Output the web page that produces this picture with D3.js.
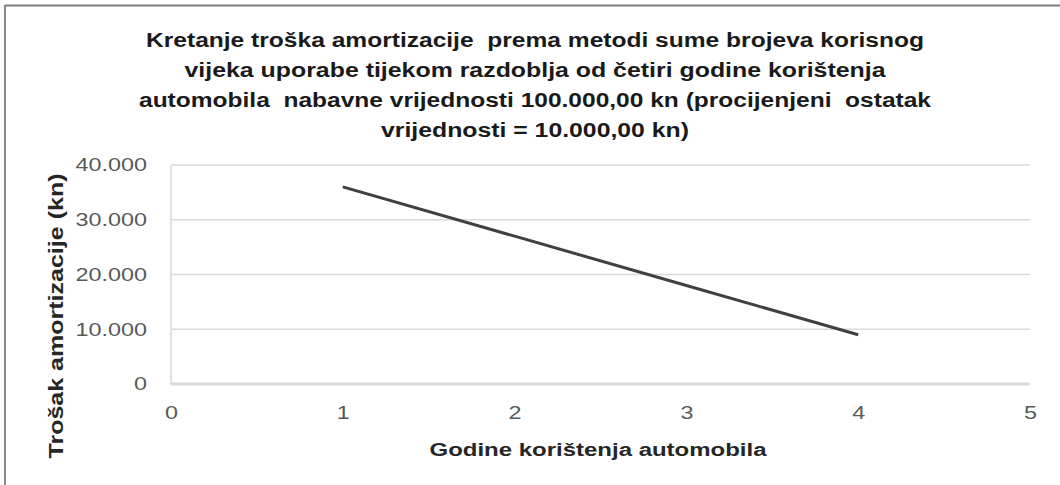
<!DOCTYPE html>
<html>
<head>
<meta charset="utf-8">
<script src="https://cdn.jsdelivr.net/npm/d3@7"></script>
<style>
  body { margin: 0; background: #fff; }
  text { font-family: "Liberation Sans", Arial, sans-serif; }
</style>
</head>
<body>
<script>
// data
var years = [1, 2, 3, 4]
var cost = [36000, 27000, 18000, 9000]
var yTicks = [0, 10000, 20000, 30000, 40000]
var xTicks = [0, 1, 2, 3, 4, 5]
var titleLines = [
    "Kretanje troška amortizacije  prema metodi sume brojeva korisnog",
    "vijeka uporabe tijekom razdoblja od četiri godine korištenja",
    "automobila  nabavne vrijednosti 100.000,00 kn (procijenjeni  ostatak",
    "vrijednosti = 10.000,00 kn)"
]
// how wide each title line is drawn in the picture
var titleWidths = [778, 701, 792, 308]

var W = 1060, H = 485
var plot = { left: 171, right: 1030, top: 165, bottom: 384 }

var d = d3.select('body').append('svg')
    .attr('width', W)
    .attr('height', H)

// frame (top and left edge only visible)
d.append('line')
    .attr('x1', 5).attr('x2', W).attr('y1', 5.5).attr('y2', 5.5)
    .attr('stroke', '#7a7a7a').attr('stroke-width', 2)
d.append('line')
    .attr('x1', 5).attr('x2', 5).attr('y1', 5).attr('y2', H)
    .attr('stroke', '#8a8a8a').attr('stroke-width', 2)

var x = d3.scaleLinear().domain([0, 5]).range([plot.left, plot.right])
var y = d3.scaleLinear().domain([0, 40000]).range([plot.bottom, plot.top])

// gridlines
d.append('g').selectAll('line')
    .data(yTicks)
    .join('line')
    .attr('x1', plot.left).attr('x2', plot.right)
    .attr('y1', function (v) { return y(v) }).attr('y2', function (v) { return y(v) })
    .attr('stroke', '#d9d9d9')
    .attr('stroke-width', function (v) { return v === 0 ? 3 : 1.5 })

// vertical axis line
d.append('line')
    .attr('x1', plot.left).attr('x2', plot.left)
    .attr('y1', plot.top).attr('y2', plot.bottom)
    .attr('stroke', '#d9d9d9').attr('stroke-width', 1.5)

var fmt = function (v) { return v === 0 ? '0' : d3.format(',')(v).replace(/,/g, '.') }

// the picture is stretched sideways, so the text is too
var sx = 1.3

// y axis
var ya = d3.axisLeft(y).tickValues(yTicks).tickFormat(fmt).tickSize(0).tickPadding(18.5)
d.append('g')
    .attr('transform', `translate(${plot.left},0)`)
    .call(ya)
    .call(function (g) { g.select('.domain').remove() })
    .selectAll('text')
    .attr('font-size', 18)
    .attr('fill', '#595959')
    .attr('transform', `scale(${sx},1)`)
    .style('font-family', '"Liberation Sans", Arial, sans-serif')

// x axis
var xa = d3.axisBottom(x).tickValues(xTicks).tickFormat(d3.format('d')).tickSize(0).tickPadding(22)
d.append('g')
    .attr('transform', `translate(0,${plot.bottom})`)
    .call(xa)
    .call(function (g) { g.select('.domain').remove() })
    .selectAll('text')
    .attr('font-size', 18)
    .attr('fill', '#595959')
    .attr('transform', `scale(${sx},1)`)
    .style('font-family', '"Liberation Sans", Arial, sans-serif')

// series line
var pts = years.map(function (yr, i) { return { x: yr, y: cost[i] } })
d.append('path')
    .datum(pts)
    .attr('d', d3.line().x(function (p) { return x(p.x) }).y(function (p) { return y(p.y) }))
    .attr('fill', 'none')
    .attr('stroke', '#404040')
    .attr('stroke-width', 3)

// title
d.append('g').selectAll('text')
    .data(titleLines)
    .join('text')
    .attr('x', 535)
    .attr('y', function (t, i) { return 47 + i * 30 })
    .attr('text-anchor', 'middle')
    .attr('font-size', 20)
    .attr('font-weight', 'bold')
    .attr('fill', '#1a1a1a')
    .attr('textLength', function (t, i) { return titleWidths[i] })
    .attr('lengthAdjust', 'spacingAndGlyphs')
    .style('white-space', 'pre')
    .text(function (t) { return t })

// axis titles
d.append('text')
    .attr('x', 598).attr('y', 456)
    .attr('text-anchor', 'middle')
    .attr('font-size', 18)
    .attr('font-weight', 'bold')
    .attr('fill', '#262626')
    .attr('textLength', 337)
    .attr('lengthAdjust', 'spacingAndGlyphs')
    .text('Godine korištenja automobila')

d.append('text')
    .attr('transform', 'translate(63,316) rotate(-90)')
    .attr('text-anchor', 'middle')
    .attr('font-size', 21)
    .attr('font-weight', 'bold')
    .attr('fill', '#262626')
    .attr('textLength', 285)
    .attr('lengthAdjust', 'spacingAndGlyphs')
    .text('Trošak amortizacije (kn)')
</script>
</body>
</html>
